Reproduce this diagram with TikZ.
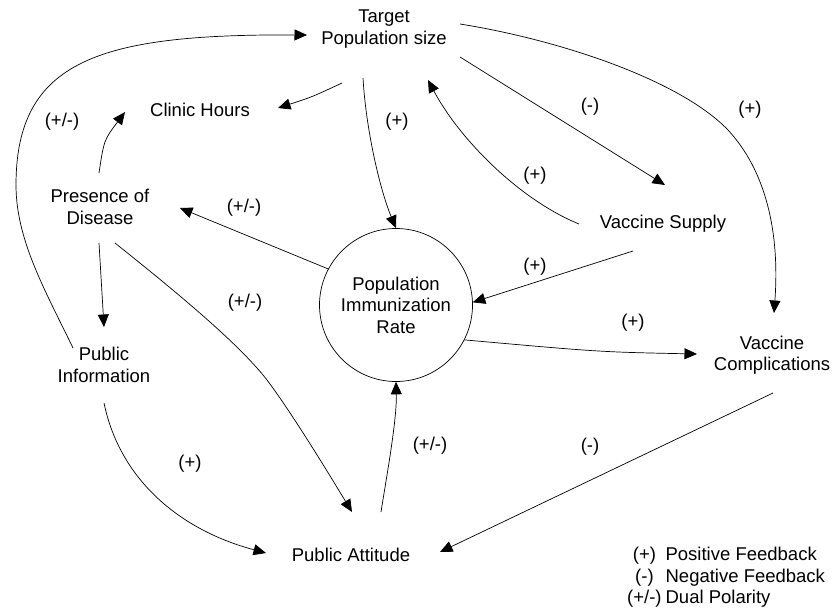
\documentclass[tikz,border=0pt]{standalone}
\usepackage{fontspec}
\setmainfont{Liberation Sans}
\usetikzlibrary{arrows.meta,calc}
\begin{document}
\begin{tikzpicture}[x=1pt,y=-1pt,
  every node/.style={font=\fontsize{18.5pt}{21.5pt}\selectfont,align=center,inner sep=0pt},
  link/.style={line width=0.7pt,-{Triangle[length=12.5pt,width=11pt]}}]
\useasboundingbox (0,0) rectangle (835,610);
\node (tps) at (384,29) {Target\\Population size};
\node (clinic) at (200,110) {Clinic Hours};
\node (disease) at (100,207) {Presence of\\Disease};
\node[draw,circle,minimum size=153pt,line width=0.7pt] (pir) at (396,305) {Population\\Immunization\\Rate};
\node (supply) at (663,224) {Vaccine Supply};
\node (compl) at (772,355) {Vaccine\\Complications};
\node (info) at (104,365) {Public\\Information};
\node (attitude) at (351,555) {Public Attitude};
% links
\draw[link] ($(info)+(-31,-17)$) .. controls (45,290) and (16,240) .. (16,185)
  .. controls (16,60) and (100,34) .. ($(tps)+(-77,6)$);
\draw[link] ($(tps)+(-42,54)$) .. controls (312,97) .. ($(clinic)+(78,-2)$);
\draw[link] ($(tps)+(-21,49)$) .. controls (366,130) and (380,190) .. (pir.north);
\draw[link] ($(disease)+(-1,-34)$) .. controls (104,140) .. ($(clinic)+(-75,2)$);
\draw[link] (pir.152) -- ($(disease)+(80,1)$);
\draw[link] ($(disease)+(-1,36)$) -- ($(info)+(0,-38)$);
\draw[link] ($(disease)+(15,36)$) .. controls (165,283) and (237,341) .. (267,380)
  .. controls (292,413) and (332,479) .. ($(attitude)+(1,-43)$);
\draw[link] ($(info)+(0,38)$) .. controls (120,480) and (180,530) .. ($(attitude)+(-85,-2)$);
\draw[link] ($(attitude)+(30,-43)$) .. controls (386,480) and (397,420) .. (pir.south);
\draw[link] ($(tps)+(76,28)$) -- ($(supply)+(2,-39)$);
\draw[link] ($(supply)+(-84,0)$) .. controls (520,200) and (460,140) .. ($(tps)+(44,51)$);
\draw[link] ($(tps)+(76,-5)$) .. controls (560,40) and (680,80) .. (728,130)
  .. controls (765,170) and (780,230) .. ($(compl)+(2,-42)$);
\draw[link] ($(supply)+(-30,27)$) -- (pir.2);
\draw[link] (pir.-27) .. controls (600,352) .. ($(compl)+(-75,-1)$);
\draw[link] ($(compl)+(1,38)$) -- ($(attitude)+(89,-3)$);
% polarity signs
\foreach \x/\y/\s in {62/122/{(+/-)},397/122/(+),244/208/{(+/-)},245/303/{(+/-)},
  190/464/(+),430/446/{(+/-)},590/107/(-),535/176/(+),750/110/(+),
  535/267/(+),633/323/(+),590/447/(-)}
  \node at (\x,\y) {\s};
% legend
\node[anchor=west] (legend) at (627,578) {\begin{tabular}{@{}c@{\hspace{4pt}}l@{}}
  (+)&Positive Feedback\\(-)&Negative Feedback\\(+/-)&Dual Polarity\end{tabular}};
\end{tikzpicture}
\end{document}
